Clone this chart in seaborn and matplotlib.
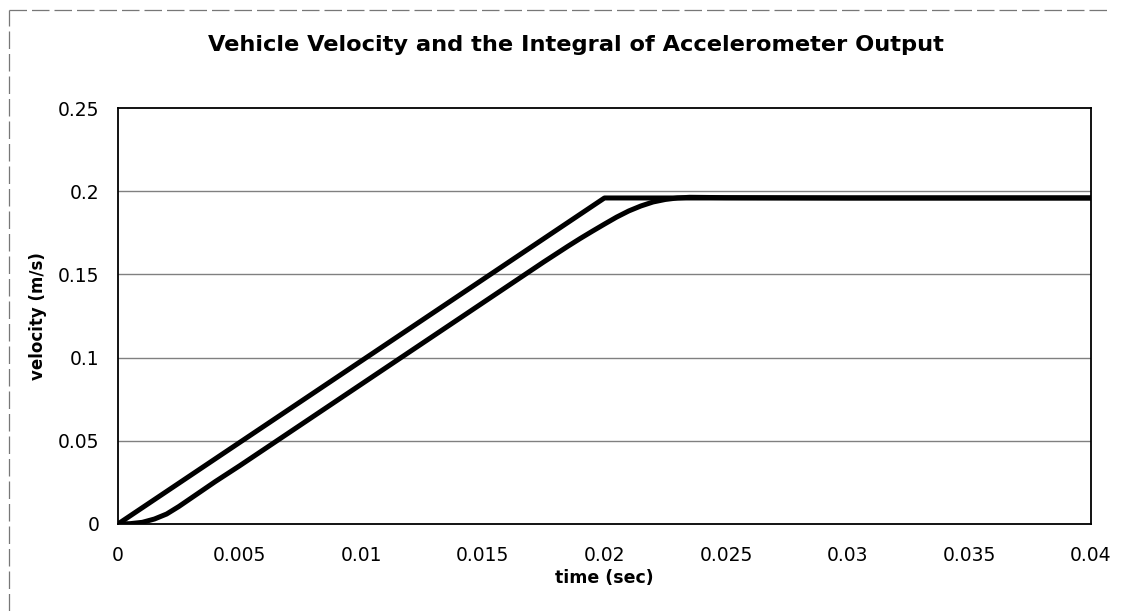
import pandas as pd
import matplotlib.pyplot as plt
import seaborn as sns
from matplotlib.lines import Line2D

# Chart values
time_true = [0.0, 0.02, 0.04]
vel_true = [0.0, 0.196, 0.196]

time_int = [0.0, 0.0005, 0.001, 0.0015, 0.002, 0.0025, 0.003, 0.0035, 0.004, 0.005,
            0.01, 0.015, 0.0175, 0.0185, 0.019, 0.0195, 0.02, 0.0205, 0.021, 0.0215,
            0.022, 0.0225, 0.023, 0.0235, 0.025, 0.03, 0.035, 0.04]
vel_int = [0.0, 0.0002, 0.001, 0.003, 0.006, 0.0105, 0.0155, 0.0205, 0.0255, 0.035,
           0.084, 0.133, 0.1575, 0.167, 0.1716, 0.176, 0.1803, 0.1845, 0.1882, 0.1912,
           0.1936, 0.1951, 0.196, 0.1964, 0.1962, 0.196, 0.196, 0.196]

sns.set_style("white")
plt.rcParams['font.family'] = ['DejaVu Sans']
plt.rcParams['text.color'] = 'black'
plt.rcParams['axes.labelcolor'] = 'black'
plt.rcParams['xtick.color'] = 'black'
plt.rcParams['ytick.color'] = 'black'

df = pd.concat([
    pd.DataFrame({"time": time_true, "velocity": vel_true, "series": "vehicle"}),
    pd.DataFrame({"time": time_int, "velocity": vel_int, "series": "integral"}),
])

fig = plt.figure(figsize=(11.27, 6.11), dpi=100)
ax = fig.add_axes([0.1047, 0.1424, 0.8633, 0.6806])

# outer chart border (only top and left edges show in the scan)
fig.lines.append(Line2D([0.008, 0.985], [0.984, 0.984], transform=fig.transFigure,
                        color="#777777", linewidth=0.9, linestyle=(0, (14, 4))))
fig.lines.append(Line2D([0.008, 0.008], [0.0, 0.984], transform=fig.transFigure,
                        color="#777777", linewidth=0.9, linestyle=(0, (14, 4))))

for y in [0.05, 0.1, 0.15, 0.2]:
    ax.axhline(y, color="#808080", linewidth=1, zorder=0)

sns.lineplot(data=df, x="time", y="velocity", units="series", estimator=None,
             color="black", linewidth=3.6, sort=False, ax=ax, legend=False)

ax.set_xlim(0, 0.04)
ax.set_ylim(0, 0.25)
ax.set_xticks([0, 0.005, 0.01, 0.015, 0.02, 0.025, 0.03, 0.035, 0.04])
ax.set_xticklabels(["0", "0.005", "0.01", "0.015", "0.02", "0.025", "0.03", "0.035", "0.04"])
ax.set_yticks([0, 0.05, 0.1, 0.15, 0.2, 0.25])
ax.set_yticklabels(["0", "0.05", "0.1", "0.15", "0.2", "0.25"])
ax.tick_params(axis="both", labelsize=13.5, length=5, width=1, color="black",
               direction="inout", pad=11)
ax.tick_params(axis="x", pad=13)
for s in ax.spines.values():
    s.set_color("black")
    s.set_linewidth(1.3)

ax.set_xlabel("time (sec)", fontsize=12.5, fontweight="bold", labelpad=3)
ax.set_ylabel("velocity (m/s)", fontsize=12, fontweight="bold", labelpad=8)
fig.text(0.511, 0.927, "Vehicle Velocity and the Integral of Accelerometer Output",
         ha="center", va="center", fontsize=16.2, fontweight="heavy")

fig.savefig("out.png", dpi=100, facecolor="white")
